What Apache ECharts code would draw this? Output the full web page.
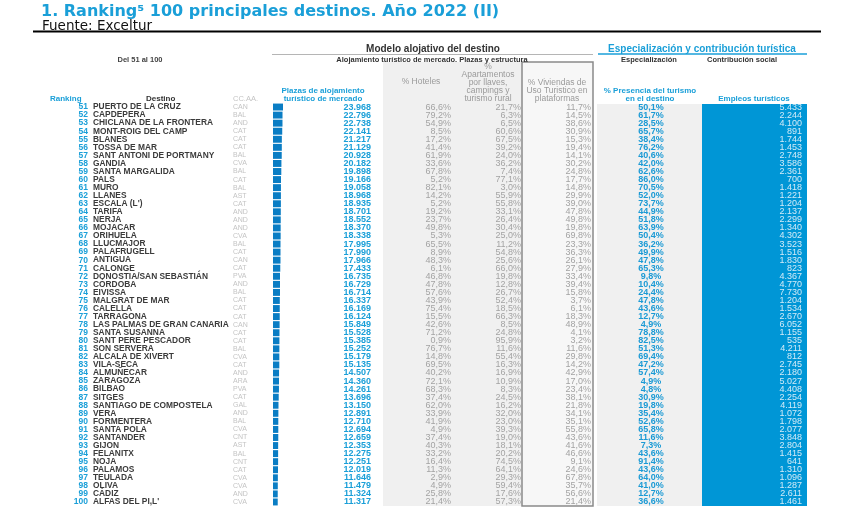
<!DOCTYPE html>
<html>
<head>
<meta charset="utf-8">
<script src="https://cdn.jsdelivr.net/npm/echarts@6/dist/echarts.min.js"></script>
<style>
html, body { margin: 0; padding: 0; background: #fff; }
#chart { width: 850px; height: 518px; }
</style>
</head>
<body>
<div id="chart"></div>
<script>
const ranks = [51, 52, 53, 54, 55, 56, 57, 58, 59, 60, 61, 62, 63, 64, 65, 66, 67, 68, 69, 70, 71, 72, 73, 74, 75,
  76, 77, 78, 79, 80, 81, 82, 83, 84, 85, 86, 87, 88, 89, 90, 91, 92, 93, 94, 95, 96, 97, 98, 99, 100]
const destinos = ['PUERTO DE LA CRUZ', 'CAPDEPERA', 'CHICLANA DE LA FRONTERA', 'MONT-ROIG DEL CAMP', 'BLANES',
  'TOSSA DE MAR', 'SANT ANTONI DE PORTMANY', 'GANDIA', 'SANTA MARGALIDA', 'PALS', 'MURO', 'LLANES', "ESCALA (L')",
  'TARIFA', 'NERJA', 'MOJACAR', 'ORIHUELA', 'LLUCMAJOR', 'PALAFRUGELL', 'ANTIGUA', 'CALONGE',
  'DONOSTIA/SAN SEBASTIÁN', 'CÓRDOBA', 'EIVISSA', 'MALGRAT DE MAR', 'CALELLA', 'TARRAGONA',
  'LAS PALMAS DE GRAN CANARIA', 'SANTA SUSANNA', 'SANT PERE PESCADOR', 'SON SERVERA', 'ALCALA DE XIVERT',
  'VILA-SECA', 'ALMUÑECAR', 'ZARAGOZA', 'BILBAO', 'SITGES', 'SANTIAGO DE COMPOSTELA', 'VERA', 'FORMENTERA',
  'SANTA POLA', 'SANTANDER', 'GIJON', 'FELANITX', 'NOJA', 'PALAMOS', 'TEULADA', 'OLIVA', 'CÁDIZ', "ALFAS DEL PI,L'"]
const ccaa = ['CAN', 'BAL', 'AND', 'CAT', 'CAT', 'CAT', 'BAL', 'CVA', 'BAL', 'CAT', 'BAL', 'AST', 'CAT', 'AND', 'AND',
  'AND', 'CVA', 'BAL', 'CAT', 'CAN', 'CAT', 'PVA', 'AND', 'BAL', 'CAT', 'CAT', 'CAT', 'CAN', 'CAT', 'CAT', 'BAL',
  'CVA', 'CAT', 'AND', 'ARA', 'PVA', 'CAT', 'GAL', 'AND', 'BAL', 'CVA', 'CNT', 'AST', 'BAL', 'CNT', 'CAT', 'CVA',
  'CVA', 'AND', 'CVA']
// plazas de alojamiento turístico de mercado
const plazas = [23968, 22796, 22738, 22141, 21217, 21129, 20928, 20182, 19898, 19166, 19058, 18968, 18935, 18701,
  18552, 18370, 18338, 17995, 17990, 17966, 17433, 16735, 16729, 16714, 16337, 16169, 16124, 15849, 15528, 15385,
  15252, 15179, 15135, 14507, 14360, 14261, 13696, 13150, 12891, 12710, 12694, 12659, 12353, 12275, 12251, 12019,
  11646, 11479, 11324, 11317]
const pctHoteles = [66.6, 79.2, 54.9, 8.5, 17.2, 41.4, 61.9, 33.6, 67.8, 5.2, 82.1, 14.2, 5.2, 19.2, 23.7, 49.8, 5.3,
  65.5, 8.9, 48.3, 6.1, 46.8, 47.8, 57.6, 43.9, 75.4, 15.5, 42.6, 71.2, 0.9, 76.7, 14.8, 69.5, 40.2, 72.1, 68.3,
  37.4, 62.0, 33.9, 41.9, 4.9, 37.4, 40.3, 33.2, 16.4, 11.3, 2.9, 4.9, 25.8, 21.4]
const pctApartamentos = [21.7, 6.3, 6.5, 60.6, 67.5, 39.2, 24.0, 36.2, 7.4, 77.1, 3.0, 55.9, 55.8, 33.1, 26.4, 30.4,
  25.0, 11.2, 54.8, 25.6, 66.0, 19.8, 12.8, 26.7, 52.4, 18.5, 66.3, 8.5, 24.8, 95.9, 11.6, 55.4, 16.3, 16.9, 10.9,
  8.3, 24.5, 16.2, 32.0, 23.0, 39.3, 19.0, 18.1, 20.2, 74.5, 64.1, 29.3, 59.4, 17.6, 57.3]
const pctViviendas = [11.7, 14.5, 38.6, 30.9, 15.3, 19.4, 14.1, 30.2, 24.8, 17.7, 14.8, 29.9, 39.0, 47.8, 49.8, 19.8,
  69.8, 23.3, 36.3, 26.1, 27.9, 33.4, 39.4, 15.8, 3.7, 6.1, 18.3, 48.9, 4.1, 3.2, 11.6, 29.8, 14.2, 42.9, 17.0, 23.4,
  38.1, 21.8, 34.1, 35.1, 55.8, 43.6, 41.6, 46.6, 9.1, 24.6, 67.8, 35.7, 56.6, 21.4]
const pctPresencia = [50.1, 61.7, 28.5, 65.7, 38.4, 76.2, 40.6, 42.0, 62.6, 86.0, 70.5, 52.0, 73.7, 44.9, 51.8, 63.9,
  50.4, 36.2, 49.9, 47.8, 65.3, 9.8, 10.4, 24.4, 47.8, 43.6, 12.7, 4.9, 78.8, 82.5, 51.3, 69.4, 47.2, 57.4, 4.9, 4.8,
  30.9, 19.8, 35.4, 52.6, 65.8, 11.6, 7.3, 43.6, 91.4, 43.6, 64.0, 41.0, 12.7, 36.6]
const empleos = [5433, 2244, 4100, 891, 1744, 1453, 2748, 3586, 2361, 700, 1418, 1221, 1204, 2137, 2299, 1340, 4302,
  3523, 1516, 1830, 823, 4367, 4770, 7730, 1204, 1534, 2670, 6052, 1155, 535, 4211, 812, 2745, 2180, 5027, 4408,
  2254, 4119, 1072, 1798, 2077, 3848, 2804, 1415, 641, 1310, 1096, 1287, 2611, 1461]

const BLUE = '#1a9fd8'
const FONT = 'Liberation Sans'
const TOP = 103
const H = 403

const miles = n => String(n).replace(/\B(?=(\d{3})+(?!\d))/g, '.')
const pct = n => n.toFixed(1).replace('.', ',') + '%'

const grids = []
const xAxes = []
const yAxes = []
// una columna = un grid con su eje de categorías (las etiquetas son el texto)
const addCol = (left, width, formatter, label) => {
  const i = grids.length
  grids.push({ left: left, top: TOP, width: width, height: H })
  xAxes.push({ gridIndex: i, type: 'value', show: false })
  yAxes.push({
    gridIndex: i,
    type: 'category',
    inverse: true,
    data: ranks,
    axisLine: { show: false },
    axisTick: { show: false },
    splitLine: { show: false },
    axisLabel: Object.assign({ margin: 0, interval: 0, fontFamily: FONT, fontSize: 9, formatter: formatter }, label)
  })
  return i
}

addCol(88, 1, (v, i) => ranks[i], { color: BLUE, fontWeight: 'bold', fontSize: 8.5 })
addCol(93, 1, (v, i) => destinos[i], { align: 'left', color: '#3b3b3b', fontWeight: 'bold', fontSize: 8.4 })
addCol(233, 1, (v, i) => ccaa[i], { align: 'left', color: '#c4c4c4', fontSize: 7 })
const barGrid = addCol(273, 10, null, { show: false })
xAxes[barGrid].min = 0
xAxes[barGrid].max = Math.max(...plazas)
addCol(371, 1, (v, i) => miles(plazas[i]), { color: BLUE, fontWeight: 'bold' })
addCol(451, 1, (v, i) => pct(pctHoteles[i]), { color: '#a3a3a3' })
addCol(521, 1, (v, i) => pct(pctApartamentos[i]), { color: '#a3a3a3' })
addCol(591, 1, (v, i) => pct(pctViviendas[i]), { color: '#a3a3a3' })
addCol(651, 1, (v, i) => pct(pctPresencia[i]), { align: 'center', color: '#1b9ad5', fontWeight: 'bold' })
addCol(802, 1, (v, i) => miles(empleos[i]), { color: '#d2ebf8' })

const txt = (text, x, y, font, fill, align) => ({
  type: 'text',
  silent: true,
  style: { text: text, x: x, y: y, font: font, fill: fill, align: align || 'center', verticalAlign: 'middle' }
})
const hdr = '8.5px ' + FONT
const hdrB = 'bold 8px ' + FONT

const myChart = echarts.init(document.getElementById('chart'))

const option = {
  animation: false,
  title: {
    text: '1. Ranking⁵ 100 principales destinos. Año 2022 (II)',
    left: 41,
    top: 3,
    padding: 0,
    textStyle: { color: BLUE, fontFamily: 'DejaVu Sans', fontWeight: 'bold', fontSize: 16, lineHeight: 18 }
  },
  graphic: [
    // fondos de las columnas
    { type: 'rect', z: -1, silent: true, shape: { x: 383, y: 62, width: 139, height: 444 }, style: { fill: '#f0f0f0' } },
    { type: 'rect', z: -1, silent: true, shape: { x: 522, y: 62, width: 71, height: 444 }, style: { fill: '#f7f7f7', stroke: '#8a8a8a', lineWidth: 1.5 } },
    { type: 'rect', z: -1, silent: true, shape: { x: 597, y: 104, width: 105, height: 402 }, style: { fill: '#f0f0f0' } },
    { type: 'rect', z: -1, silent: true, shape: { x: 702, y: 104, width: 105, height: 402 }, style: { fill: '#0096d6' } },
    // líneas de cabecera
    txt('Fuente: Exceltur', 42, 26, '13.5px DejaVu Sans', '#111', 'left'),
    { type: 'line', silent: true, shape: { x1: 33, y1: 31.5, x2: 821, y2: 31.5 }, style: { stroke: '#000', lineWidth: 2 } },
    { type: 'line', silent: true, shape: { x1: 272, y1: 54.5, x2: 593, y2: 54.5 }, style: { stroke: '#b5b5b5', lineWidth: 1 } },
    { type: 'line', silent: true, shape: { x1: 598, y1: 54, x2: 807, y2: 54 }, style: { stroke: BLUE, lineWidth: 1.5 } },
    txt('Modelo alojativo del destino', 433, 49, 'bold 10px ' + FONT, '#333'),
    txt('Alojamiento turístico de mercado. Plazas y estructura', 432, 59.5, 'bold 7.5px ' + FONT, '#333'),
    txt('Del 51 al 100', 140, 60, 'bold 7.5px ' + FONT, '#444'),
    txt('Especialización y contribución turística', 702, 49, 'bold 10px ' + FONT, BLUE),
    txt('Especialización', 649, 59.5, 'bold 7.5px ' + FONT, '#333'),
    txt('Contribución social', 742, 59.5, 'bold 7.5px ' + FONT, '#333'),
    txt('Ranking', 50, 99, hdrB, BLUE, 'left'),
    txt('Destino', 146, 99, hdrB, '#333', 'left'),
    txt('CC.AA.', 233, 99, '7.5px ' + FONT, '#c4c4c4', 'left'),
    txt('Plazas de alojamiento', 323, 91, hdrB, BLUE),
    txt('turístico de mercado', 323, 99, hdrB, BLUE),
    txt('% Hoteles', 421, 82, hdr, '#9a9a9a'),
    txt('%', 488, 67, hdr, '#9a9a9a'),
    txt('Apartamentos', 488, 75, hdr, '#9a9a9a'),
    txt('por llaves,', 488, 83, hdr, '#9a9a9a'),
    txt('campings y', 488, 91, hdr, '#9a9a9a'),
    txt('turismo rural', 488, 99, hdr, '#9a9a9a'),
    txt('% Viviendas de', 557, 83, hdr, '#9a9a9a'),
    txt('Uso Turistico en', 557, 91, hdr, '#9a9a9a'),
    txt('plataformas', 557, 99, hdr, '#9a9a9a'),
    txt('% Presencia del turismo', 650, 91, hdrB, BLUE),
    txt('en el destino', 650, 99, hdrB, BLUE),
    txt('Empleos turísticos', 754, 99, hdrB, BLUE)
  ],
  grid: grids,
  xAxis: xAxes,
  yAxis: yAxes,
  series: [
    {
      name: 'Plazas',
      type: 'bar',
      xAxisIndex: barGrid,
      yAxisIndex: barGrid,
      data: plazas,
      barCategoryGap: '14%',
      silent: true,
      itemStyle: { color: '#0a7dc4' }
    }
  ]
}

option && myChart.setOption(option)
</script>
</body>
</html>
